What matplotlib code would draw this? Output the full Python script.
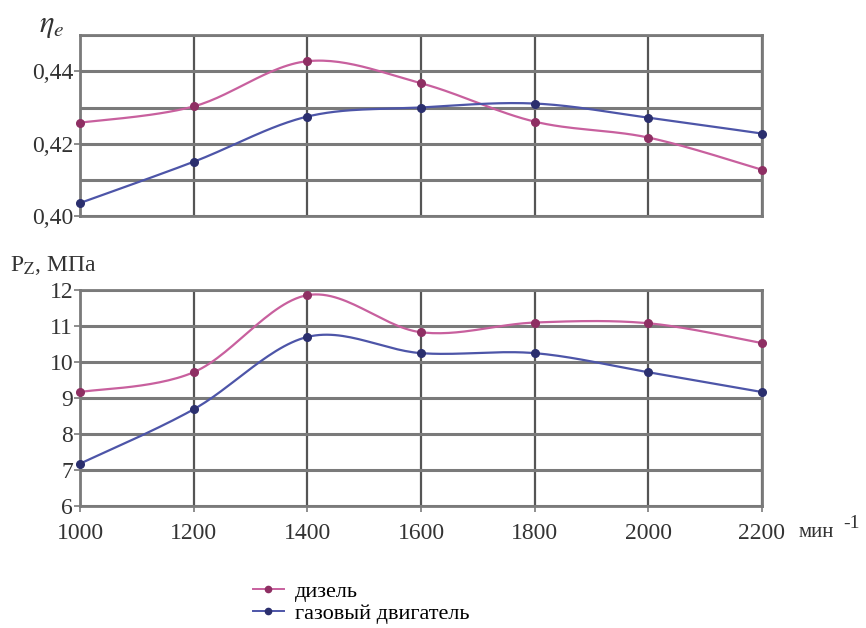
import numpy as np
import matplotlib.pyplot as plt
from matplotlib.lines import Line2D

rpm = [1000, 1200, 1400, 1600, 1800, 2000, 2200]

eta_diesel = [0.4258, 0.4303, 0.4428, 0.4367, 0.4261, 0.4217, 0.4128]
eta_gas = [0.4036, 0.4150, 0.4275, 0.4300, 0.4311, 0.4272, 0.4228]

pz_diesel = [9.17, 9.72, 11.86, 10.83, 11.10, 11.08, 10.53]
pz_gas = [7.18, 8.69, 10.70, 10.25, 10.25, 9.72, 9.17]

eta_ticks = [0.40, 0.42, 0.44]
pz_ticks = [6, 7, 8, 9, 10, 11, 12]

PINK = "#c8609e"
PINK_M = "#8e2f63"
BLUE = "#4d55a8"
BLUE_M = "#2b2f6e"
GRID = "#7a7a7a"
TXT = "#333333"

plt.rcParams['font.family'] = ['Liberation Serif', 'DejaVu Serif']
plt.rcParams['mathtext.fontset'] = 'stix'


def smooth(x, y, n=30):
    # Excel-like smoothing: cubic bezier with catmull-rom control points
    x = np.asarray(x, float)
    y = np.asarray(y, float)
    px = np.concatenate([[x[0]], x, [x[-1]]])
    py = np.concatenate([[y[0]], y, [y[-1]]])
    xs, ys = [], []
    t = np.linspace(0, 1, n)
    for i in range(1, len(px) - 2):
        p0 = np.array([px[i], py[i]])
        p3 = np.array([px[i + 1], py[i + 1]])
        c1 = p0 + (np.array([px[i + 1], py[i + 1]]) - np.array([px[i - 1], py[i - 1]])) / 6
        c2 = p3 - (np.array([px[i + 2], py[i + 2]]) - np.array([px[i], py[i]])) / 6
        b = ((1 - t) ** 3)[:, None] * p0 + (3 * (1 - t) ** 2 * t)[:, None] * c1 \
            + (3 * (1 - t) * t ** 2)[:, None] * c2 + (t ** 3)[:, None] * p3
        xs.extend(b[:, 0])
        ys.extend(b[:, 1])
    return xs, ys


def style_axes(ax):
    ax.set_xlim(1000, 2200)
    ax.set_xticks(rpm)
    ax.grid(True, axis='x', color='#555555', lw=1.6)
    ax.grid(True, axis='y', which='both', color=GRID, lw=2.2)
    for s in ax.spines.values():
        s.set_color(GRID)
        s.set_linewidth(2.0)
    ax.tick_params(axis='y', direction='out', length=4, width=1.2, color=GRID,
                   labelsize=17, pad=1, labelcolor=TXT)
    ax.tick_params(axis='y', which='minor', length=0)
    ax.tick_params(axis='x', direction='out', length=4, width=1.2, color=GRID,
                   labelsize=17, pad=8, labelcolor=TXT)
    ax.set_axisbelow(True)


def draw(ax, y1, y2):
    for y, lc, mc in ((y1, PINK, PINK_M), (y2, BLUE, BLUE_M)):
        sx, sy = smooth(rpm, y)
        ax.plot(sx, sy, color=lc, lw=1.6, zorder=3)
        ax.plot(rpm, y, ls='none', marker='o', ms=5.5, color=mc, zorder=4,
                clip_on=False)


fig = plt.figure(figsize=(8.66, 6.28), dpi=100)
ax1 = fig.add_axes([0.0924, 0.656, 0.7875, 0.288])
ax2 = fig.add_axes([0.0924, 0.194, 0.7875, 0.344])

draw(ax1, eta_diesel, eta_gas)
style_axes(ax1)
ax1.set_ylim(0.40, 0.45)
ax1.set_yticks(eta_ticks)
ax1.set_yticks([0.41, 0.43, 0.45], minor=True)
ax1.set_yticklabels([f"{v:.2f}".replace('.', ',') for v in eta_ticks])
ax1.tick_params(axis='x', length=0, labelbottom=False)

draw(ax2, pz_diesel, pz_gas)
style_axes(ax2)
ax2.set_ylim(6, 12)
ax2.set_yticks(pz_ticks)

fig.text(0.045, 0.960, r"$\eta_{e}$", fontsize=22, ha='left', va='center',
         color=TXT)
fig.text(0.012, 0.578, r"P$_{\mathrm{Z}}$, МПа", fontsize=17, ha='left', va='center',
         color=TXT)
fig.text(0.922, 0.152, "мин", fontsize=15, ha='left', va='center', color=TXT)
fig.text(0.974, 0.166, "-1", fontsize=14, ha='left', va='center', color=TXT)

handles = [Line2D([], [], color=PINK, marker='o', ms=4.5, mfc=PINK_M, mec=PINK_M, lw=1.4),
           Line2D([], [], color=BLUE, marker='o', ms=4.5, mfc=BLUE_M, mec=BLUE_M, lw=1.4)]
fig.legend(handles, ["дизель", "газовый двигатель"], loc='upper left',
           bbox_to_anchor=(0.292, 0.074), frameon=False, fontsize=16,
           handlelength=1.4, handletextpad=0.5, labelspacing=0.05,
           borderaxespad=0, borderpad=0)

fig.savefig("out.png", dpi=100)
